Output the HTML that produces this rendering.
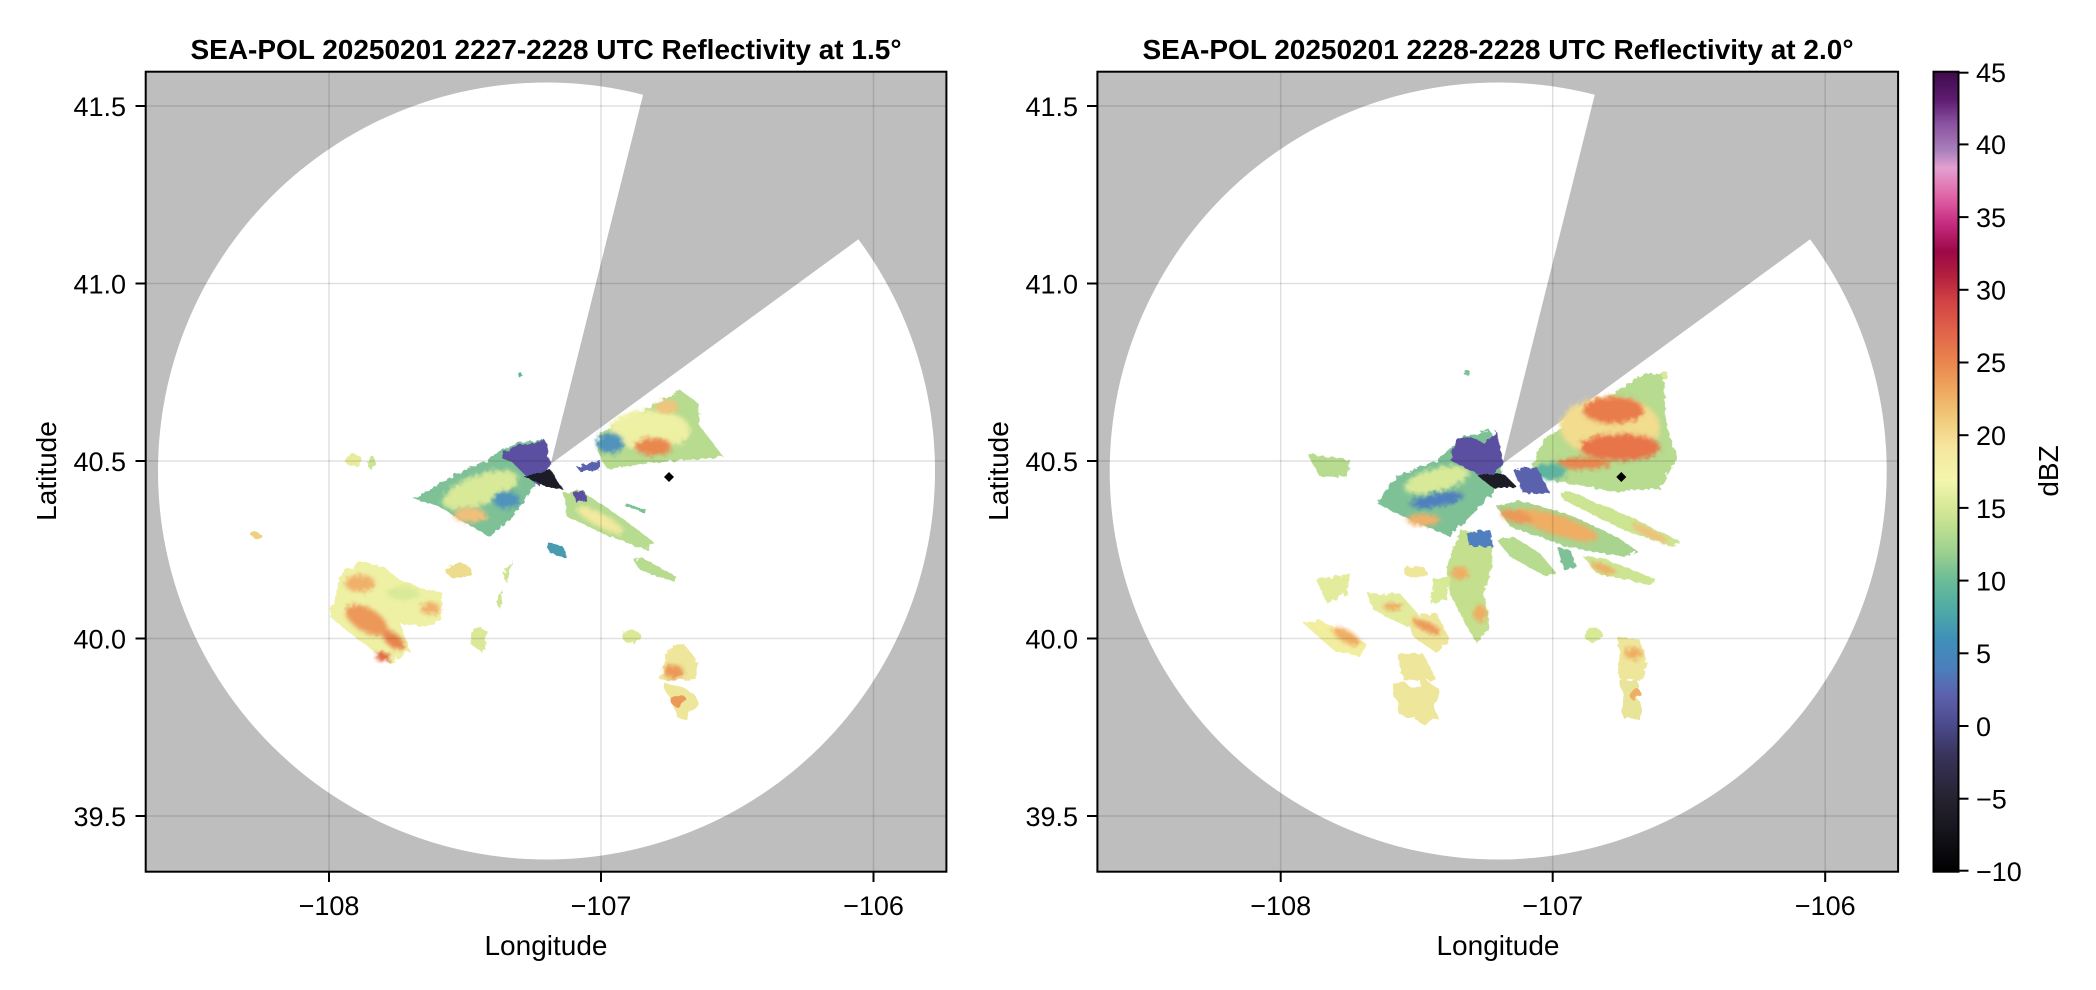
<!DOCTYPE html>
<html><head><meta charset="utf-8"><style>
html,body{margin:0;padding:0;background:#fff;}
svg{display:block;font-family:"Liberation Sans",sans-serif;}
</style></head><body>
<svg width="2096" height="990" viewBox="0 0 2096 990" xmlns="http://www.w3.org/2000/svg">
<defs>
<filter id="bl" x="-20%" y="-20%" width="140%" height="140%"><feGaussianBlur stdDeviation="6"/></filter>
<filter id="rough" x="-10%" y="-10%" width="120%" height="120%">
<feTurbulence type="fractalNoise" baseFrequency="0.06" numOctaves="2" seed="3"/>
<feDisplacementMap in="SourceGraphic" scale="18"/></filter>
<linearGradient id="cb" x1="0" y1="1" x2="0" y2="0">
<stop offset="0" stop-color="#000"/>
<stop offset="0.055" stop-color="#18161e"/>
<stop offset="0.09" stop-color="#25222f"/>
<stop offset="0.145" stop-color="#38335a"/>
<stop offset="0.18" stop-color="#4a4888"/>
<stop offset="0.22" stop-color="#5d61ad"/>
<stop offset="0.255" stop-color="#4c7fbd"/>
<stop offset="0.29" stop-color="#3f90b8"/>
<stop offset="0.33" stop-color="#50aca3"/>
<stop offset="0.365" stop-color="#6cbc97"/>
<stop offset="0.40" stop-color="#9dd18f"/>
<stop offset="0.445" stop-color="#cde593"/>
<stop offset="0.49" stop-color="#f3f6ad"/>
<stop offset="0.53" stop-color="#f6e6a0"/>
<stop offset="0.565" stop-color="#f2cb7c"/>
<stop offset="0.60" stop-color="#eeaa60"/>
<stop offset="0.635" stop-color="#ea874f"/>
<stop offset="0.675" stop-color="#e0644a"/>
<stop offset="0.71" stop-color="#d34545"/>
<stop offset="0.745" stop-color="#b3203f"/>
<stop offset="0.775" stop-color="#9c0848"/>
<stop offset="0.81" stop-color="#c62b80"/>
<stop offset="0.845" stop-color="#e066a8"/>
<stop offset="0.88" stop-color="#e3a0d0"/>
<stop offset="0.9" stop-color="#ac82bd"/>
<stop offset="0.935" stop-color="#8a52a0"/>
<stop offset="0.965" stop-color="#5e1c70"/>
<stop offset="1" stop-color="#3f0a4a"/>
</linearGradient>
<clipPath id="c1"><rect x="145.7" y="71.7" width="800.7" height="800"/></clipPath>
<clipPath id="c2"><rect x="1097.4" y="71.7" width="800.7" height="800"/></clipPath>
</defs>

<!-- LEFT PANEL -->
<g clip-path="url(#c1)">
<rect x="145.7" y="71.7" width="801" height="800" fill="#bebebe"/>
<circle cx="546.5" cy="471" r="388.5" fill="#fff"/>
<polygon points="550.7,464 661,23 1000,23 1000,130 962,160 855.6,241.4" fill="#bebebe"/>
<g transform="translate(300,360) scale(0.33333)">
 <g filter="url(#rough)">
 <polygon points="752,312 730,240 640,250 560,300 470,340 340,415 420,440 480,480 570,530 640,470 700,380" fill="#7fc196"/>
 <ellipse cx="540" cy="390" rx="120" ry="45" transform="rotate(-20 540 390)" fill="#d8ea98" filter="url(#bl)"/>
 <ellipse cx="510" cy="465" rx="50" ry="22" fill="#f0c07a" filter="url(#bl)"/>
 <ellipse cx="620" cy="420" rx="40" ry="25" fill="#4f93bc" filter="url(#bl)"/>
 <polygon points="600,290 640,260 700,250 735,240 752,312 720,380 680,350 640,310" fill="#5a4fa0"/>
 <polygon points="670,350 752,330 790,390 740,380" fill="#1e1a28"/>
 <polygon points="790,400 840,390 960,470 1060,545 1040,570 930,530 800,470" fill="#b7db8f"/>
 <ellipse cx="900" cy="480" rx="80" ry="20" transform="rotate(28 900 480)" fill="#f1eaa0" filter="url(#bl)"/>
 <polygon points="820,400 850,390 860,420 830,430" fill="#5a4fa0"/>
 <polygon points="900,215 1000,170 1140,90 1195,130 1200,200 1270,290 1100,305 920,325 890,270" fill="#b7db8f"/>
 <ellipse cx="1050" cy="210" rx="120" ry="60" fill="#eef0a4" filter="url(#bl)"/>
 <ellipse cx="1060" cy="260" rx="55" ry="26" fill="#e9874f" filter="url(#bl)"/>
 <ellipse cx="1100" cy="140" rx="35" ry="20" fill="#f1c47d" filter="url(#bl)"/>
 <ellipse cx="930" cy="250" rx="40" ry="30" fill="#4f93bc" filter="url(#bl)"/>
 <polygon points="830,320 900,300 900,330 840,335" fill="#5a62ad"/>
 <polygon points="1000,600 1030,595 1130,650 1120,665 1020,630" fill="#b7db8f"/>
 <polygon points="740,545 790,560 800,595 750,580" fill="#4a9cb0"/>
 <polygon points="980,430 1040,450 1035,458 975,438" fill="#7fc196"/>
 <polygon points="120,640 180,605 250,620 300,660 380,690 430,700 420,780 380,800 300,790 330,870 270,910 230,880 150,820 90,770 110,700" fill="#eef0a4"/>
 <ellipse cx="180" cy="670" rx="45" ry="25" fill="#f0b06a" filter="url(#bl)"/>
 <ellipse cx="200" cy="780" rx="70" ry="35" transform="rotate(30 200 780)" fill="#ec9858" filter="url(#bl)"/>
 <ellipse cx="280" cy="840" rx="40" ry="20" transform="rotate(40 280 840)" fill="#e7834c" filter="url(#bl)"/>
 <ellipse cx="250" cy="890" rx="22" ry="14" fill="#e06a44" filter="url(#bl)"/>
 <ellipse cx="390" cy="745" rx="30" ry="18" fill="#f0b06a" filter="url(#bl)"/>
 <ellipse cx="310" cy="700" rx="50" ry="20" fill="#d8ea98" filter="url(#bl)"/>
 <ellipse cx="475" cy="632" rx="38" ry="22" fill="#eedc8d"/>
 <ellipse cx="160" cy="300" rx="25" ry="18" fill="#e8eb9c"/>
 <ellipse cx="215" cy="308" rx="12" ry="20" fill="#cde593"/>
 <polygon points="610,640 640,600 620,670" fill="#cde593"/>
 <polygon points="590,720 610,690 600,750" fill="#cde593"/>
 <polygon points="520,800 560,810 550,880 510,850" fill="#dbe897"/>
 <ellipse cx="995" cy="830" rx="28" ry="20" fill="#dbe897"/>
 <polygon points="1100,870 1150,850 1190,900 1190,960 1080,960" fill="#eee69a"/>
 <ellipse cx="1120" cy="935" rx="30" ry="20" fill="#ec9858" filter="url(#bl)"/>
 <ellipse cx="660" cy="45" rx="6" ry="8" fill="#5ab59f"/>
 </g>
</g>
<g filter="url(#rough)">
 <polygon points="665,683 690,690 700,705 688,722 675,715" fill="#eee69a"/>
 <ellipse cx="678" cy="700" rx="8" ry="6" fill="#ec9858"/>
 <ellipse cx="256" cy="535" rx="5" ry="3" fill="#f0d080"/>
</g>
<polygon points="669,472 674,477 669,482 664,477" fill="#000"/>
<g stroke="#000" stroke-opacity="0.12" stroke-width="1.5">
 <line x1="329" y1="71" x2="329" y2="872"/><line x1="601" y1="71" x2="601" y2="872"/><line x1="873.5" y1="71" x2="873.5" y2="872"/>
 <line x1="145" y1="106" x2="947" y2="106"/><line x1="145" y1="283.5" x2="947" y2="283.5"/><line x1="145" y1="461" x2="947" y2="461"/><line x1="145" y1="638.5" x2="947" y2="638.5"/><line x1="145" y1="816" x2="947" y2="816"/>
</g>
</g>
<rect x="145.7" y="71.7" width="800.7" height="800" fill="none" stroke="#000" stroke-width="2"/>
<g stroke="#000" stroke-width="2">
 <line x1="135.5" y1="106" x2="145" y2="106"/><line x1="135.5" y1="283.5" x2="145" y2="283.5"/><line x1="135.5" y1="461" x2="145" y2="461"/><line x1="135.5" y1="638.5" x2="145" y2="638.5"/><line x1="135.5" y1="816" x2="145" y2="816"/>
 <line x1="329" y1="872" x2="329" y2="882"/><line x1="601" y1="872" x2="601" y2="882"/><line x1="873.5" y1="872" x2="873.5" y2="882"/>
</g>
<g font-size="27" fill="#000">
 <text x="126" y="116" text-anchor="end">41.5</text><text x="126" y="293.5" text-anchor="end">41.0</text><text x="126" y="471" text-anchor="end">40.5</text><text x="126" y="648.5" text-anchor="end">40.0</text><text x="126" y="826" text-anchor="end">39.5</text>
 <text x="329" y="915" text-anchor="middle">−108</text><text x="601" y="915" text-anchor="middle">−107</text><text x="873.5" y="915" text-anchor="middle">−106</text>
 <text x="546" y="955" text-anchor="middle" font-size="28">Longitude</text>
 <text transform="translate(56,471) rotate(-90)" text-anchor="middle" font-size="28">Latitude</text>
 <text x="546" y="59" text-anchor="middle" font-weight="bold" font-size="28">SEA-POL 20250201 2227-2228 UTC Reflectivity at 1.5°</text>
</g>

<!-- RIGHT PANEL -->
<g clip-path="url(#c2)">
<rect x="1097.4" y="71.7" width="801" height="800" fill="#bebebe"/>
<circle cx="1498.2" cy="471" r="388.5" fill="#fff"/>
<polygon points="1502.4,464 1612.7,23 1952,23 1952,130 1914,160 1807.3,241.4" fill="#bebebe"/>
<g transform="translate(1250,360) scale(0.33333)">
 <g filter="url(#rough)">
 <polygon points="880,240 1000,160 1180,40 1240,40 1250,200 1280,290 1230,385 1100,395 900,360 840,330" fill="#b7db8f"/>
 <ellipse cx="1080" cy="200" rx="150" ry="90" fill="#f2dc8e" filter="url(#bl)"/>
 <ellipse cx="1090" cy="150" rx="90" ry="40" fill="#e97c4c" filter="url(#bl)"/>
 <ellipse cx="1110" cy="262" rx="120" ry="40" fill="#e7744a" filter="url(#bl)"/>
 <ellipse cx="1000" cy="310" rx="80" ry="18" fill="#e9874f" filter="url(#bl)"/>
 <ellipse cx="900" cy="335" rx="50" ry="25" fill="#5fb4a0" filter="url(#bl)"/>
 <polygon points="760,310 720,210 640,230 560,300 440,350 380,430 460,470 600,530 700,430 740,380" fill="#7fc196"/>
 <ellipse cx="560" cy="360" rx="100" ry="35" transform="rotate(-15 560 360)" fill="#d8ea98" filter="url(#bl)"/>
 <ellipse cx="520" cy="480" rx="50" ry="18" fill="#f0b06a" filter="url(#bl)"/>
 <ellipse cx="560" cy="420" rx="80" ry="20" transform="rotate(-10 560 420)" fill="#4f7fbe" filter="url(#bl)"/>
 <polygon points="620,240 660,230 700,250 740,215 760,310 720,360 660,330 600,300" fill="#5a4fa0"/>
 <polygon points="680,345 760,340 800,380 730,385" fill="#1e1a28"/>
 <polygon points="790,330 860,320 900,400 820,400" fill="#5a62ad"/>
 <polygon points="740,440 800,420 950,460 1100,530 1165,575 1120,590 950,560 780,500" fill="#a9d48f"/>
 <ellipse cx="920" cy="495" rx="130" ry="30" transform="rotate(18 920 495)" fill="#efae63" filter="url(#bl)"/>
 <ellipse cx="800" cy="470" rx="50" ry="18" transform="rotate(15 800 470)" fill="#ec9858" filter="url(#bl)"/>
 <polygon points="930,400 960,395 1140,470 1290,545 1270,560 1120,510 940,420" fill="#cde593"/>
 <ellipse cx="1200" cy="520" rx="60" ry="12" transform="rotate(25 1200 520)" fill="#f0c07a" filter="url(#bl)"/>
 <polygon points="740,540 790,530 870,580 920,640 880,645 780,590" fill="#b7db8f"/>
 <polygon points="1000,590 1060,595 1220,660 1200,675 1040,640" fill="#cde593"/>
 <ellipse cx="1060" cy="625" rx="40" ry="12" transform="rotate(20 1060 625)" fill="#efae63" filter="url(#bl)"/>
 <polygon points="920,560 960,570 980,620 940,630" fill="#7fc196"/>
 <polygon points="630,510 720,520 730,620 700,700 720,800 680,850 640,780 600,700 590,620" fill="#c4e08f"/>
 <ellipse cx="630" cy="640" rx="25" ry="20" fill="#efae63" filter="url(#bl)"/>
 <ellipse cx="690" cy="760" rx="20" ry="25" fill="#efae63" filter="url(#bl)"/>
 <polygon points="650,520 720,510 730,560 660,560" fill="#4f7fbe"/>
 <ellipse cx="495" cy="635" rx="35" ry="18" fill="#eee69a"/>
 <polygon points="160,790 210,780 350,850 330,890 250,870" fill="#f2ee9f"/>
 <ellipse cx="290" cy="830" rx="45" ry="18" transform="rotate(30 290 830)" fill="#efae63" filter="url(#bl)"/>
 <polygon points="200,660 300,640 290,700 230,730" fill="#e3ec9d"/>
 <polygon points="350,700 450,700 520,780 470,800 370,750" fill="#e3ec9d"/>
 <ellipse cx="430" cy="740" rx="30" ry="12" fill="#efae63" filter="url(#bl)"/>
 <polygon points="470,770 560,760 600,840 560,880 490,830" fill="#eee69a"/>
 <ellipse cx="530" cy="800" rx="45" ry="14" transform="rotate(25 530 800)" fill="#ec9858" filter="url(#bl)"/>
 <polygon points="440,880 520,880 560,960 460,960" fill="#eee69a"/>
 <polygon points="550,660 600,650 590,720 540,730" fill="#d8ea98"/>
 <polygon points="170,280 230,290 300,300 290,350 210,350" fill="#b7db8f"/>
 <ellipse cx="1030" cy="825" rx="28" ry="22" fill="#d8ea98"/>
 <polygon points="1105,830 1170,840 1190,900 1180,960 1110,960" fill="#eee69a"/>
 <ellipse cx="1150" cy="880" rx="25" ry="18" fill="#efae63" filter="url(#bl)"/>
 <ellipse cx="650" cy="38" rx="10" ry="8" fill="#7fc196"/>
 <ellipse cx="1245" cy="45" rx="10" ry="10" fill="#d8ea98"/>
 </g>
</g>
<g filter="url(#rough)">
 <polygon points="1390,680 1430,690 1440,720 1400,715" fill="#eee69a"/>
 <polygon points="1425,680 1440,690 1430,730 1415,720" fill="#eee69a"/>
 <polygon points="1620,680 1640,680 1640,720 1625,720" fill="#e8e59a"/>
 <ellipse cx="1636" cy="695" rx="6" ry="6" fill="#efae63"/>
</g>
<polygon points="1621.3,472 1626.3,477 1621.3,482 1616.3,477" fill="#000"/>
<g stroke="#000" stroke-opacity="0.12" stroke-width="1.5">
 <line x1="1280.7" y1="71" x2="1280.7" y2="872"/><line x1="1552.7" y1="71" x2="1552.7" y2="872"/><line x1="1825.2" y1="71" x2="1825.2" y2="872"/>
 <line x1="1097" y1="106" x2="1899" y2="106"/><line x1="1097" y1="283.5" x2="1899" y2="283.5"/><line x1="1097" y1="461" x2="1899" y2="461"/><line x1="1097" y1="638.5" x2="1899" y2="638.5"/><line x1="1097" y1="816" x2="1899" y2="816"/>
</g>
</g>
<rect x="1097.4" y="71.7" width="800.7" height="800" fill="none" stroke="#000" stroke-width="2"/>
<g stroke="#000" stroke-width="2">
 <line x1="1087" y1="106" x2="1097" y2="106"/><line x1="1087" y1="283.5" x2="1097" y2="283.5"/><line x1="1087" y1="461" x2="1097" y2="461"/><line x1="1087" y1="638.5" x2="1097" y2="638.5"/><line x1="1087" y1="816" x2="1097" y2="816"/>
 <line x1="1280.7" y1="872" x2="1280.7" y2="882"/><line x1="1552.7" y1="872" x2="1552.7" y2="882"/><line x1="1825.2" y1="872" x2="1825.2" y2="882"/>
</g>
<g font-size="27" fill="#000">
 <text x="1078" y="116" text-anchor="end">41.5</text><text x="1078" y="293.5" text-anchor="end">41.0</text><text x="1078" y="471" text-anchor="end">40.5</text><text x="1078" y="648.5" text-anchor="end">40.0</text><text x="1078" y="826" text-anchor="end">39.5</text>
 <text x="1280.7" y="915" text-anchor="middle">−108</text><text x="1552.7" y="915" text-anchor="middle">−107</text><text x="1825.2" y="915" text-anchor="middle">−106</text>
 <text x="1498" y="955" text-anchor="middle" font-size="28">Longitude</text>
 <text transform="translate(1008,471) rotate(-90)" text-anchor="middle" font-size="28">Latitude</text>
 <text x="1498" y="59" text-anchor="middle" font-weight="bold" font-size="28">SEA-POL 20250201 2228-2228 UTC Reflectivity at 2.0°</text>
</g>

<!-- COLORBAR -->
<rect x="1933.5" y="71.7" width="25" height="800" fill="url(#cb)" stroke="#000" stroke-width="2"/>
<g stroke="#000" stroke-width="2">
 <line x1="1958.5" y1="72.7" x2="1968.5" y2="72.7"/><line x1="1958.5" y1="144.4" x2="1968.5" y2="144.4"/><line x1="1958.5" y1="217.1" x2="1968.5" y2="217.1"/><line x1="1958.5" y1="289.8" x2="1968.5" y2="289.8"/><line x1="1958.5" y1="362.5" x2="1968.5" y2="362.5"/><line x1="1958.5" y1="435.2" x2="1968.5" y2="435.2"/><line x1="1958.5" y1="507.9" x2="1968.5" y2="507.9"/><line x1="1958.5" y1="580.6" x2="1968.5" y2="580.6"/><line x1="1958.5" y1="653.3" x2="1968.5" y2="653.3"/><line x1="1958.5" y1="726" x2="1968.5" y2="726"/><line x1="1958.5" y1="798.7" x2="1968.5" y2="798.7"/><line x1="1958.5" y1="870.7" x2="1968.5" y2="870.7"/>
</g>
<g font-size="27" fill="#000">
 <text x="1976" y="82">45</text><text x="1976" y="154">40</text><text x="1976" y="227">35</text><text x="1976" y="299.5">30</text><text x="1976" y="372">25</text><text x="1976" y="445">20</text><text x="1976" y="518">15</text><text x="1976" y="590.5">10</text><text x="1976" y="663">5</text><text x="1976" y="736">0</text><text x="1976" y="808.5">−5</text><text x="1976" y="881">−10</text>
 <text transform="translate(2058,471) rotate(-90)" text-anchor="middle" font-size="28">dBZ</text>
</g>
</svg>
</body></html>
